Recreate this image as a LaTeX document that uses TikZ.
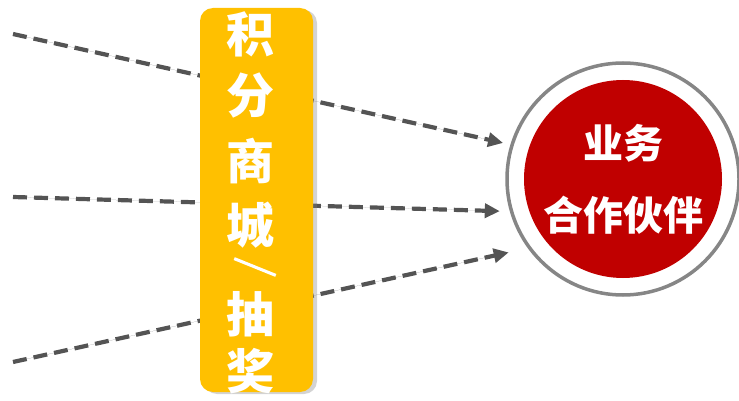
\documentclass[tikz,border=0pt]{standalone}
\usepackage{fontspec}
\newfontfamily\cjk{Noto Sans CJK SC}
\newfontfamily\cjkslash{Noto Sans CJK SC}[FakeBold=4]
\usetikzlibrary{arrows.meta,shadows}
\definecolor{mallyellow}{HTML}{FFC000}
\definecolor{partnerred}{HTML}{C00000}
\definecolor{ringgray}{HTML}{868686}
\definecolor{flowgray}{HTML}{545454}

\begin{document}
\begin{tikzpicture}[x=1pt,y=-1pt]
        % Define styles
        \tikzset{
            ring/.style={circle, draw=ringgray, line width=3.5pt, minimum size=232pt, inner sep=0},
            core/.style={circle, fill=partnerred, minimum size=198pt, inner sep=0, text=white, align=center, font=\cjk\bfseries\fontsize{40}{72}\selectfont},
            mall/.style={rectangle, rounded corners=13pt, fill=mallyellow, minimum width=113pt, minimum height=384pt,
                drop shadow={shadow xshift=4pt, shadow yshift=-2pt, opacity=0.35}},
            malltext/.style={text=white, inner sep=0, font=\cjk\bfseries\fontsize{48}{48}\selectfont},
            arrow/.style={-{Triangle[length=15pt,width=14pt]}, draw=flowgray, fill=flowgray, line width=4.2pt, dash pattern=on 14pt off 7pt}
        }
        \useasboundingbox (0,0) rectangle (739,401);

        % Nodes
        \node[ring] (partner) at (623,179) {};
        \node[core] (core) at (partner) {业务\\合作伙伴};
        \coordinate (src_1) at (13,34);
        \coordinate (src_2) at (13,197);
        \coordinate (src_3) at (13,362);

        % Arrows
        \draw[arrow, shorten >=7.5pt] (src_1) -- (partner.163);
        \draw[arrow, shorten >=10pt] (src_2) -- (partner.196);
        \draw[arrow, shorten >=19.5pt] (src_3) -- (partner.216);

        % Mall box
        \node[mall] (mall) at (256.5,200) {};
        \foreach \ch/\y in {积/34, 分/96, 商/161, 城/225, 抽/314, 奖/371}
            \node[malltext] (mall_\y) at (250,\y) {\ch};
        \node[malltext] (mall_slash) at (255,267) {\scalebox{0.7}{\rotatebox{-67}{\cjkslash\bfseries ／}}};
    \end{tikzpicture}
\end{document}
